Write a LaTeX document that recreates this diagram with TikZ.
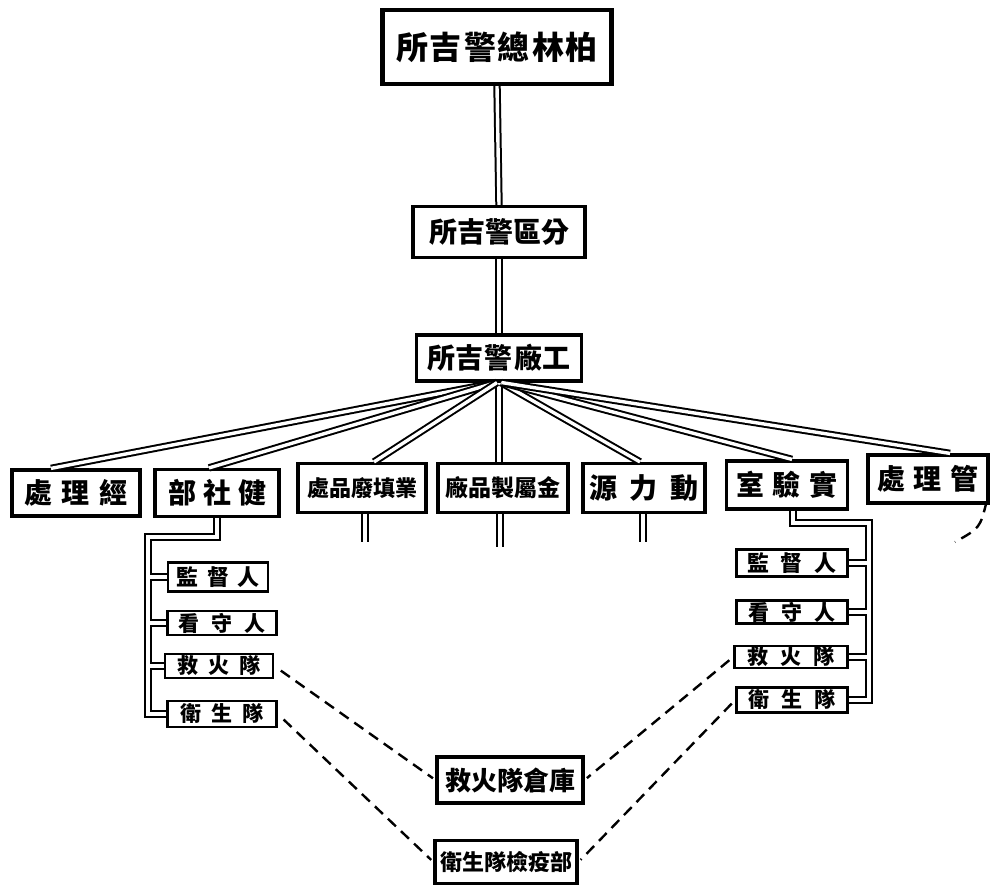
\documentclass[tikz,border=0pt]{standalone}
\usepackage{fontspec}
\newfontfamily\cjk{Noto Sans CJK TC}
\newcommand\gapw[1]{\hspace{#1pt}}
\newcommand\cjksize[1]{\cjk\bfseries\fontsize{#1}{#1}\selectfont}
\begin{document}
\begin{tikzpicture}[x=1pt,y=-1pt,
  box/.style={draw=black, line width=3.2pt, fill=white, inner sep=0pt},
  bigbox/.style={box, line width=4.2pt},
  subbox/.style={box, line width=2.6pt},
  dbl/.style={draw=black, double=white, double distance=3.4pt, line width=2pt},
  core/.style={draw=white, line width=3.4pt},
  dashline/.style={draw=black, line width=2.4pt, dash pattern=on 11pt off 7pt},
]
\useasboundingbox[fill=white] (0,0) rectangle (993,893);

% --- head offices -------------------------------------------------------
\node[bigbox, minimum width=229pt, minimum height=74pt, font=\cjksize{32}]
  (top) at (497,47) {所\gapw{2}吉\gapw{2}警\gapw{2}總\gapw{2}林\gapw{2}柏};
\node[box, minimum width=172pt, minimum height=51pt, font=\cjksize{28}]
  (fen) at (499,232) {所吉警區分};
\node[box, minimum width=165pt, minimum height=46pt, font=\cjksize{28}]
  (gc) at (499,358) {所\gapw{1}吉\gapw{1}警\gapw{1}廠\gapw{1}工};

% --- departments ---------------------------------------------------------
\node[box, minimum width=128pt, minimum height=46pt, font=\cjksize{28}]
  (jingli) at (76,493) {處\gapw{10}理\gapw{10}經};
\node[box, minimum width=124pt, minimum height=47pt, font=\cjksize{28}]
  (jianshe) at (217,493) {部\gapw{7}社\gapw{7}健};
\node[box, minimum width=128pt, minimum height=49pt, font=\cjksize{22}]
  (yewu) at (362,488) {處品廢填業};
\node[box, minimum width=130pt, minimum height=49pt, font=\cjksize{23}]
  (jinshu) at (503,488) {廠品製屬金};
\node[box, minimum width=122pt, minimum height=49pt, font=\cjksize{28}]
  (dongli) at (644,488) {源\gapw{13}力\gapw{13}動};
\node[box, minimum width=121pt, minimum height=48pt, font=\cjksize{28}]
  (shiyan) at (787,485) {室\gapw{9}驗\gapw{9}實};
\node[box, minimum width=120pt, minimum height=48pt, font=\cjksize{28}]
  (guanli) at (928,479) {處\gapw{9}理\gapw{9}管};

% --- left sub-units --------------------------------------------------------
\node[subbox, minimum width=100pt, minimum height=29pt, font=\cjksize{22}]
  (jdL) at (218,577) {監\gapw{9}督\gapw{9}人};
\node[subbox, minimum width=109pt, minimum height=24pt, font=\cjksize{21}]
  (ksL) at (222,623) {看\gapw{12}守\gapw{12}人};
\node[subbox, minimum width=108pt, minimum height=24pt, font=\cjksize{21}]
  (jhL) at (219,666) {救\gapw{10}火\gapw{10}隊};
\node[subbox, minimum width=109pt, minimum height=26pt, font=\cjksize{21}]
  (wsL) at (222,714) {衛\gapw{10}生\gapw{10}隊};

% --- right sub-units -------------------------------------------------------
\node[subbox, minimum width=111pt, minimum height=27pt, font=\cjksize{22}]
  (jdR) at (792,563) {監\gapw{12}督\gapw{12}人};
\node[subbox, minimum width=111pt, minimum height=23pt, font=\cjksize{21}]
  (ksR) at (792,612) {看\gapw{12}守\gapw{12}人};
\node[subbox, minimum width=113pt, minimum height=22pt, font=\cjksize{21}]
  (jhR) at (791,657) {救\gapw{12}火\gapw{12}隊};
\node[subbox, minimum width=111pt, minimum height=25pt, font=\cjksize{21}]
  (wsR) at (792,700) {衛\gapw{12}生\gapw{12}隊};

% --- shared stores ---------------------------------------------------------
\node[box, minimum width=146pt, minimum height=46pt, font=\cjksize{26}]
  (cangku) at (510,780) {救火隊倉庫};
\node[box, minimum width=142pt, minimum height=43pt, font=\cjksize{22}]
  (jianyi) at (506,862) {衛生隊檢疫部};

% --- main trunk ----------------------------------------------------------
\draw[dbl] (top.south) -- (fen.north);
\draw[dbl] (fen.south) -- (gc.north);
\draw[dbl] (gc.south) -- (jinshu.north -| gc.south);

% --- fan-out to departments ------------------------------------------------
\draw[dbl] ([xshift=-3pt]gc.south) -- ([xshift=-25pt]jingli.north);
\draw[dbl] ([xshift=-3pt]gc.south) -- ([xshift=-8pt]jianshe.north);
\draw[dbl] ([xshift=-2pt]gc.south) -- ([xshift=12pt]yewu.north);
\draw[dbl] ([xshift=2pt]gc.south) -- ([xshift=-4pt]dongli.north);
\draw[dbl] ([xshift=3pt]gc.south) -- ([xshift=5pt]shiyan.north);
\draw[dbl] ([xshift=3pt]gc.south) -- ([xshift=22pt]guanli.north);

% --- short stubs below departments ---------------------------------------
\coordinate (s1) at (365,542);
\coordinate (s2) at (500,547);
\coordinate (s3) at (643,542);
\draw[dbl] (yewu.south -| s1) -- (s1);
\draw[dbl] (jinshu.south -| s2) -- (s2);
\draw[dbl] (dongli.south -| s3) -- (s3);

% --- left bus ---------------------------------------------------------------
\coordinate (lbTop) at (148,537);
\draw[dbl] (jianshe.south) |- (lbTop) |- (wsL.west);
\draw[dbl] (lbTop |- jdL.west) -- (jdL.west);
\draw[dbl] (lbTop |- ksL.west) -- (ksL.west);
\draw[dbl] (lbTop |- jhL.west) -- (jhL.west);
\draw[core] ([yshift=-2pt]lbTop) -- ([yshift=2pt]lbTop |- wsL.west);

% --- right bus --------------------------------------------------------------
\coordinate (rbTop) at (869,523);
\draw[dbl] ([xshift=6pt]shiyan.south) |- (rbTop) |- (wsR.east);
\draw[dbl] (rbTop |- jdR.east) -- (jdR.east);
\draw[dbl] (rbTop |- ksR.east) -- (ksR.east);
\draw[dbl] (rbTop |- jhR.east) -- (jhR.east);
\draw[core] ([yshift=-2pt]rbTop) -- ([yshift=2pt]rbTop |- wsR.east);

% --- dashed links to shared stores ---------------------------------------
\draw[dashline, shorten <=8pt, shorten >=3pt] (jhL.east) -- (cangku.west);
\draw[dashline, shorten <=8pt, shorten >=3pt] (wsL.east) -- (jianyi.west);
\draw[dashline, shorten <=5pt, shorten >=3pt] (jhR.west) -- (cangku.east);
\draw[dashline, shorten <=5pt, shorten >=3pt] (wsR.west) -- (jianyi.east);

% --- dashed tail below the last department ------------------------------
\coordinate (tail) at (955,542);
\draw[dashline] ([xshift=-3pt,yshift=3pt]guanli.south east) .. controls (980,528) .. (tail);
\end{tikzpicture}
\end{document}
